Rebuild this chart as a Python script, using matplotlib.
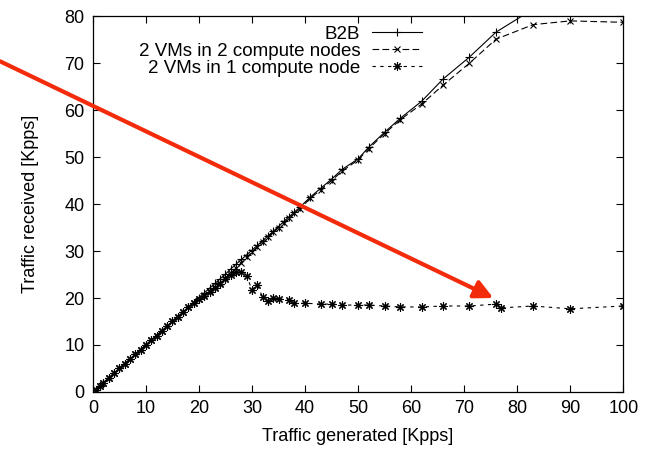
import matplotlib.pyplot as plt
import matplotlib
matplotlib.rcParams['font.family'] = ['Liberation Sans', 'DejaVu Sans']

b2b_x = [0.5, 1.3, 2, 3, 4, 5, 6, 7, 8, 9, 10, 11, 12, 13, 14, 15, 16, 17, 18, 19, 20,
         21, 22, 23, 24, 25, 26, 27, 28, 29, 30, 31, 32, 33, 34, 35, 36, 37, 38, 39,
         41, 43, 45, 47, 50, 52, 55, 58, 62, 66, 71, 76, 83]
b2b_y = [0.5, 1.3, 2, 3, 4, 5, 6, 7, 8, 9, 10, 11, 12, 13, 14, 15, 16, 17, 18, 19, 20.1,
         21.1, 22.1, 23.1, 24.1, 25.1, 26.2, 27.2, 28.2, 29.2, 30.2, 31.2, 32.2, 33.2, 34.2, 35.2, 36.3, 37.3, 38.3, 39.3,
         41.5, 43.4, 45.3, 47.4, 49.6, 52.1, 55.3, 58.3, 61.9, 66.6, 71.3, 76.6, 81.5]

two_nodes_x = [0.5, 1.3, 2, 3, 4, 5, 6, 7, 8, 9, 10, 11, 12, 13, 14, 15, 16, 17, 18, 19, 20,
               21, 22, 23, 24, 25, 26, 27, 28, 29, 30, 31, 32, 33, 34, 35, 36, 37, 38, 39,
               41, 43, 45, 47, 50, 52, 55, 58, 62, 66, 71, 76, 83, 90, 100]
two_nodes_y = [0.5, 1.3, 2, 3, 4, 5, 6, 7, 8, 9, 10, 11, 12, 13, 14, 15, 16, 17, 18, 19, 19.8,
               20.6, 21.5, 22.4, 23.3, 24.3, 25.3, 26.4, 27.5, 28.7, 29.8, 30.9, 32, 33, 34, 35, 36, 37, 38, 39,
               41.2, 43.1, 45, 47, 49.4, 51.8, 55, 58, 61.3, 65.3, 70, 75.1, 78.2, 79, 78.7]

one_node_x = [0.5, 1.3, 2, 3, 4, 5, 6, 7, 8, 9, 10, 11, 12, 13, 14, 15, 16, 17, 18, 19, 20,
              21, 22, 23, 24, 25, 26, 27, 28, 29, 30, 31, 32, 33, 34, 35, 37, 38, 40,
              43, 45, 47, 50, 52, 55, 58, 62, 66, 71, 76, 77, 83, 90, 100]
one_node_y = [0.5, 1.3, 2, 3, 4, 5, 6, 7, 8, 9, 10, 11, 12, 13, 14, 15, 16, 17, 18, 19, 19.7,
              20.5, 21.3, 22.2, 23, 24, 24.8, 25.5, 25.6, 24.6, 21.8, 22.8, 20.2, 19.4, 20, 19.8, 19.6, 18.9, 18.9,
              18.7, 18.7, 18.5, 18.5, 18.5, 18.3, 18.1, 18.1, 18.3, 18.3, 18.7, 17.9, 18.3, 17.7, 18.3]

labels = ['B2B', '2 VMs in 2 compute nodes', '2 VMs in 1 compute node']

fig = plt.figure(figsize=(6.54, 4.5), dpi=100)
ax = fig.add_axes([0.142, 0.129, 0.811, 0.835])

ax.plot(b2b_x, b2b_y, color='black', lw=0.8, marker='+', ms=6, mew=0.8, label=labels[0])
ax.plot(two_nodes_x, two_nodes_y, color='black', lw=0.8, ls=(0, (6, 3)), marker='x', ms=5, mew=0.8, label=labels[1])
ax.plot(one_node_x, one_node_y, color='black', lw=0.8, ls=(0, (3, 4)), marker=(8, 2, 0), ms=6, mew=0.8, label=labels[2])

ax.set_xlim(0, 100)
ax.set_ylim(0, 80)
ax.set_xticks(range(0, 101, 10))
ax.set_yticks(range(0, 81, 10))
ax.tick_params(direction='in', top=True, right=True, length=5, labelsize=13, width=0.8, pad=6)
for s in ax.spines.values():
    s.set_linewidth(0.9)
ax.set_xlabel('Traffic generated [Kpps]', fontsize=13, labelpad=8)
ax.set_ylabel('Traffic received [Kpps]', fontsize=13, labelpad=18)

ax.legend(loc='upper right', bbox_to_anchor=(0.628, 0.985), frameon=False, fontsize=13.5,
          markerfirst=False, handlelength=2.7, handletextpad=0.6, labelspacing=0.0,
          borderaxespad=0, borderpad=0.2)

# red arrow drawn over the chart
ax.annotate('', xy=(75.5, 20), xytext=(-17.5, 70.4),
            arrowprops=dict(arrowstyle='-|>', color='#f42b0b', lw=3, mutation_scale=28,
                            shrinkA=0, shrinkB=0),
            annotation_clip=False)

fig.savefig('out.png', dpi=100)
